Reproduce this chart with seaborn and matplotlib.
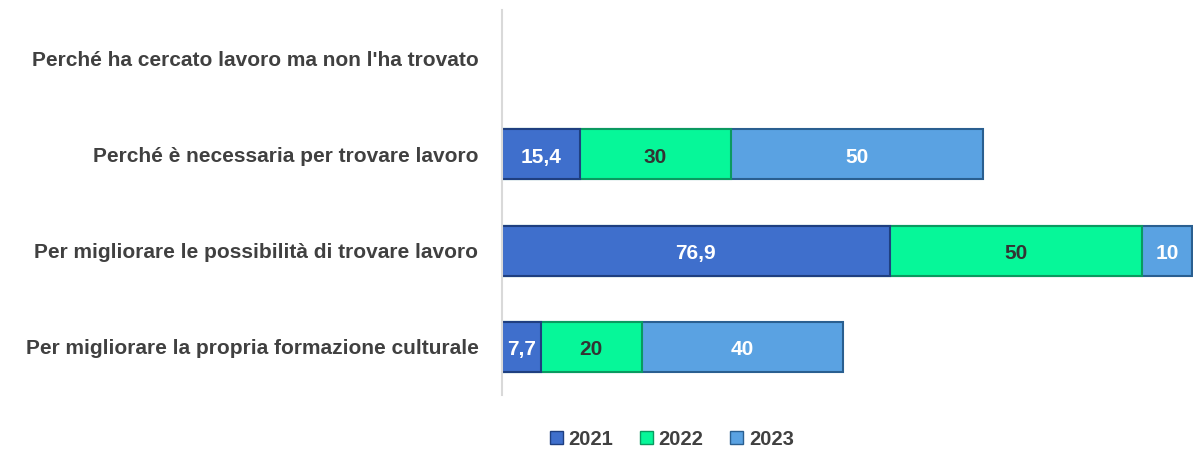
import matplotlib
matplotlib.use("Agg")
import matplotlib.pyplot as plt
import numpy as np
import pandas as pd
import seaborn as sns
from matplotlib.patches import Patch

categories = [
    "Perché ha cercato lavoro ma non l'ha trovato",
    "Perché è necessaria per trovare lavoro",
    "Per migliorare le possibilità di trovare lavoro",
    "Per migliorare la propria formazione culturale",
]
years = ["2021", "2022", "2023"]
v2021 = [np.nan, 15.4, 76.9, 7.7]
v2022 = [np.nan, 30, 50, 20]
v2023 = [np.nan, 50, 10, 40]

COLORS = {"2021": "#3F6FCC", "2022": "#06F799", "2023": "#5AA2E2"}
EDGES = {"2021": "#1F3F80", "2022": "#0A9A60", "2023": "#2A5F90"}
TXT = {"2021": "white", "2022": "#333333", "2023": "white"}

df = pd.DataFrame({"cat": categories, "2021": v2021, "2022": v2022, "2023": v2023})
df["c1"] = df["2021"]
df["c2"] = df["2021"] + df["2022"]
df["c3"] = df["c2"] + df["2023"]

sns.set_theme(style="white")
plt.rcParams["font.family"] = ["Liberation Sans", "DejaVu Sans"]

fig = plt.figure(figsize=(11.93, 4.49), dpi=100)
ax = fig.add_axes([0.4208, 0.12, 0.579, 0.858])

# stacked by drawing cumulative totals from the back
for col, yr in zip(["c3", "c2", "c1"], ["2023", "2022", "2021"]):
    sns.barplot(data=df, y="cat", x=col, order=categories, orient="h",
                color=COLORS[yr], saturation=1, width=0.52,
                edgecolor=EDGES[yr], linewidth=1.5, ax=ax)

# value labels in the middle of each segment
for i, row in df.iterrows():
    start = 0
    for yr in years:
        v = row[yr]
        if pd.isna(v):
            continue
        ax.text(start + v / 2, i + 0.03, f"{v:g}".replace(".", ","), ha="center", va="center",
                color=TXT[yr], fontsize=15, fontweight="bold")
        start += v

ax.set_xlim(0, 137)
ax.set_ylim(3.5, -0.5)
ax.set_xlabel("")
ax.set_ylabel("")
ax.set_xticks([])
ax.tick_params(axis="y", length=0, pad=17)
for lab in ax.get_yticklabels():
    lab.set_fontsize(15)
    lab.set_fontweight("bold")
    lab.set_color("#404040")
for s in ["top", "right", "bottom"]:
    ax.spines[s].set_visible(False)
ax.spines["left"].set_color("#D9D9D9")
ax.spines["left"].set_linewidth(1.5)

handles = [Patch(facecolor=COLORS[y], edgecolor=EDGES[y], label=y) for y in years]
fig.legend(handles=handles, loc="lower center", bbox_to_anchor=(0.563, -0.04), ncol=3,
           frameon=False, prop={"weight": "bold", "size": 14.5}, labelcolor="#404040",
           handlelength=0.65, handleheight=0.65, handletextpad=0.3, columnspacing=1.3)

fig.savefig("out.png", dpi=100)
